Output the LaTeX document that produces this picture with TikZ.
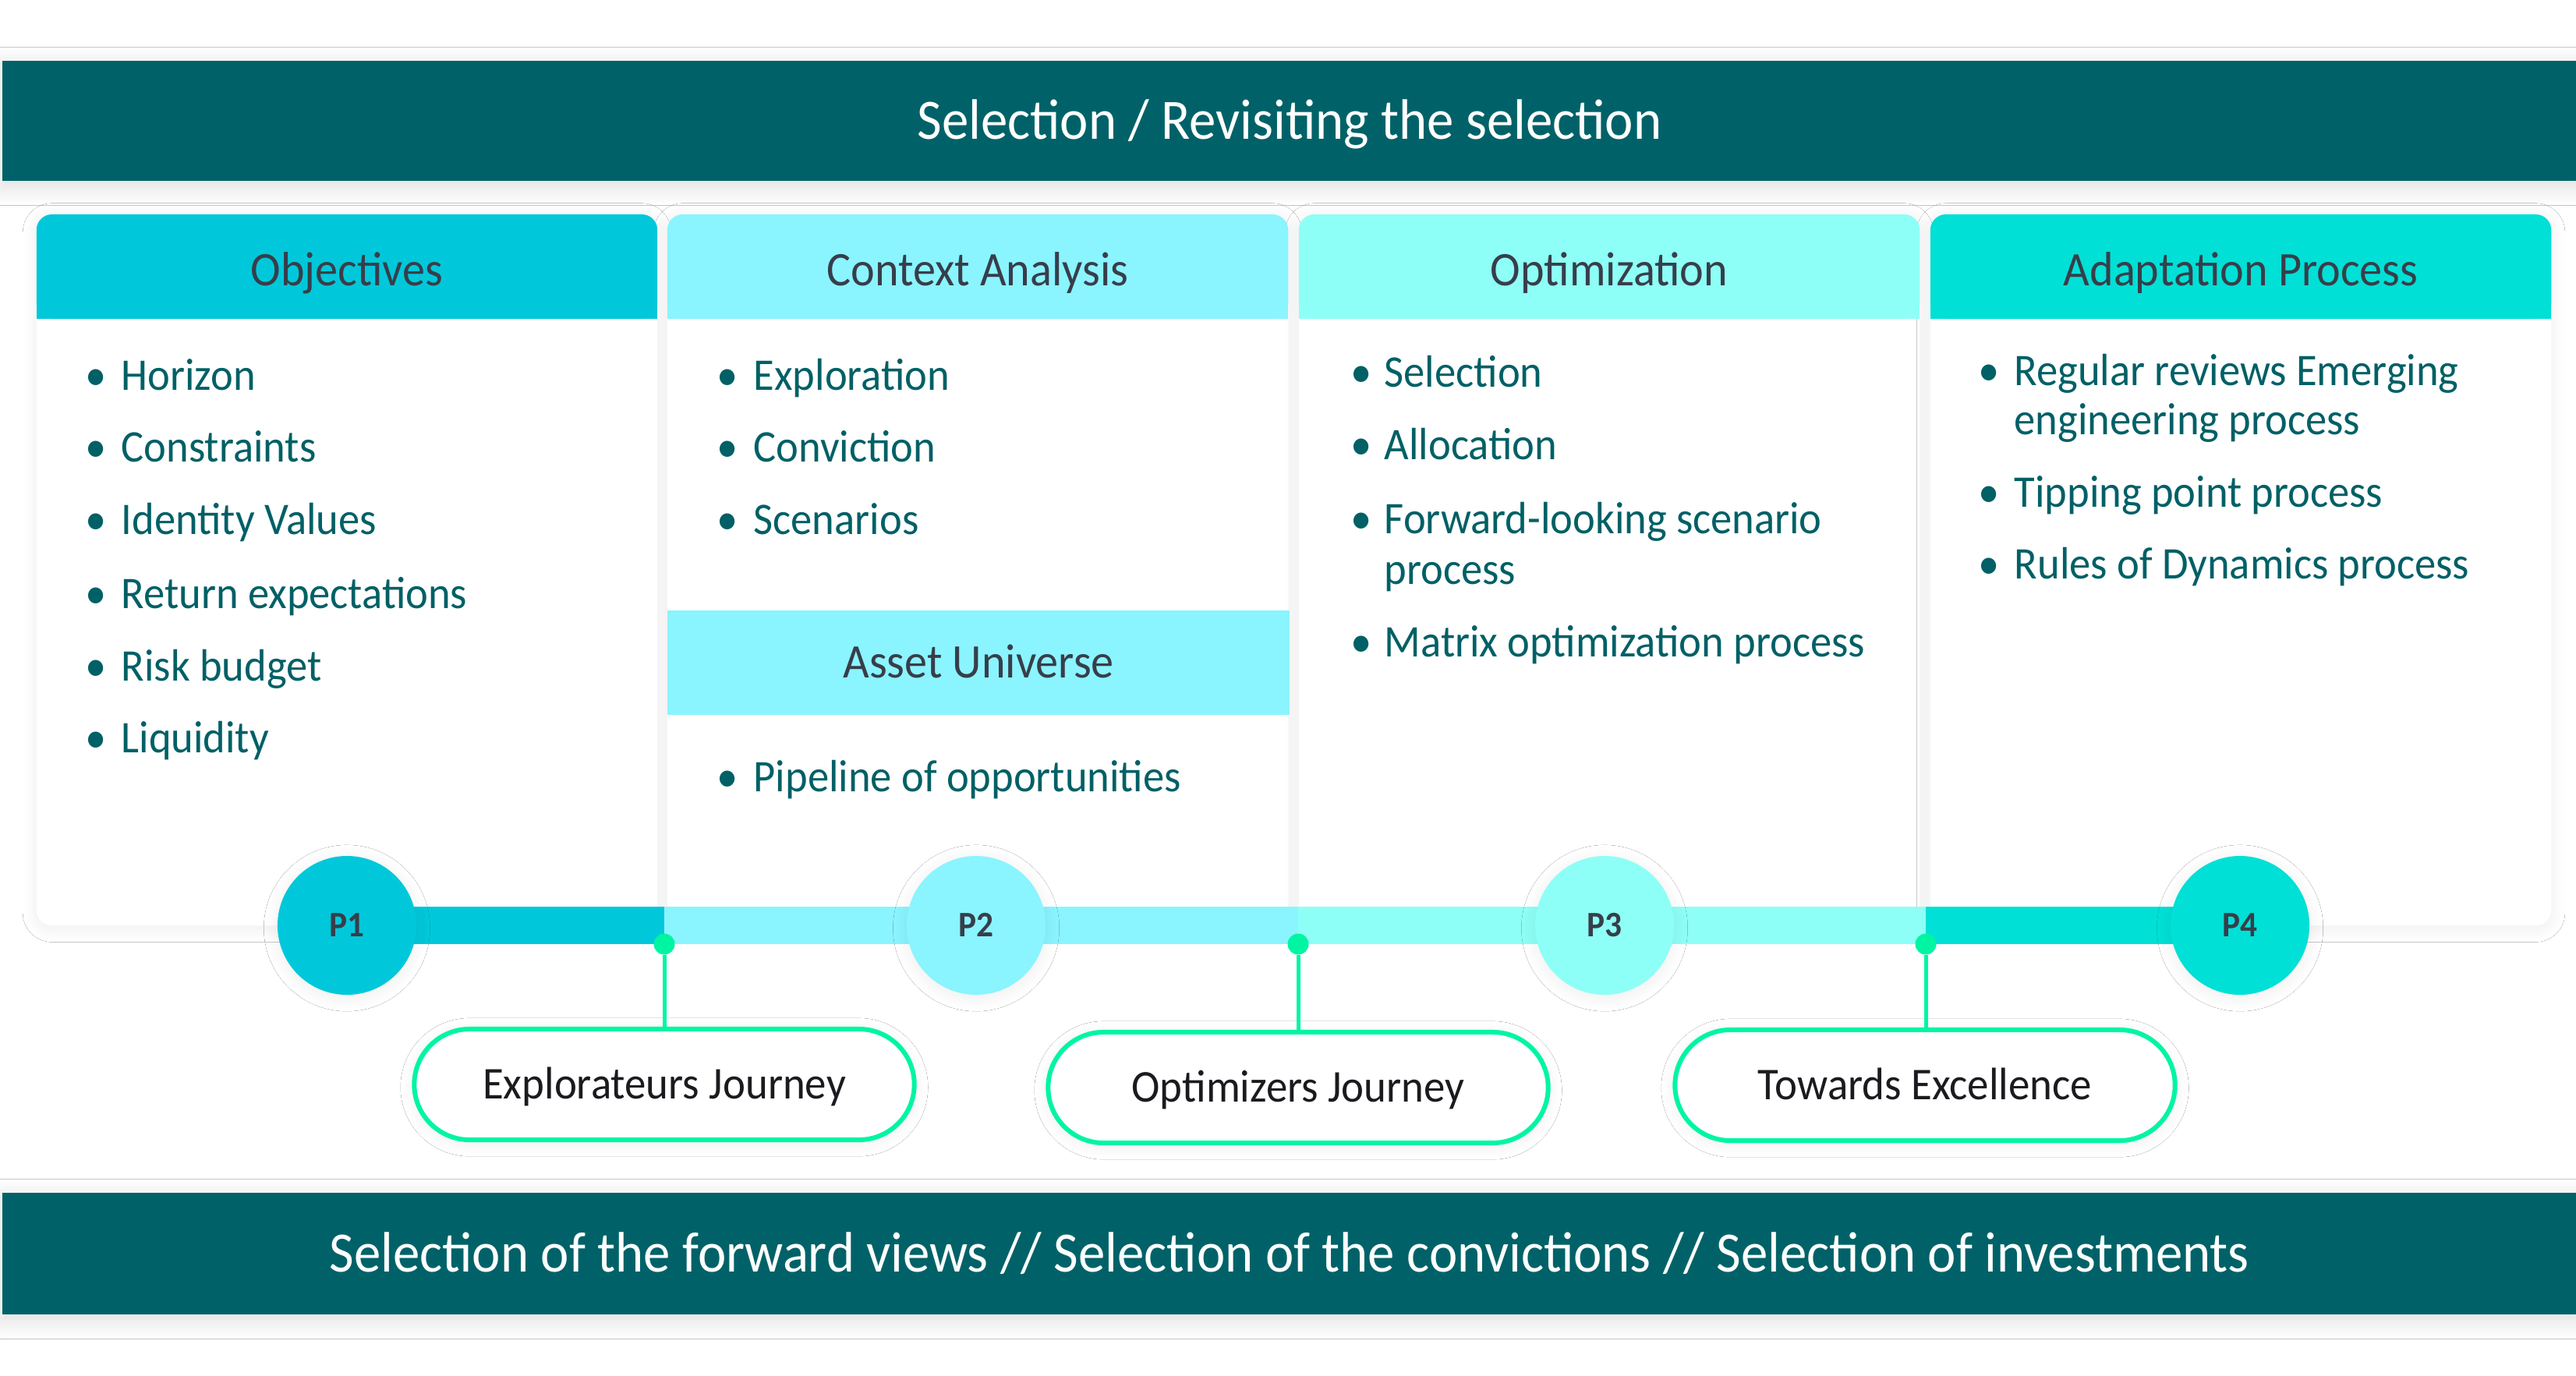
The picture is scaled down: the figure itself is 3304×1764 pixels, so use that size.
\documentclass[tikz,border=0pt]{standalone}
\usepackage{fontspec}
\setmainfont{Carlito}[FakeStretch=0.94]
\usetikzlibrary{shadows.blur}
\definecolor{bannerc}{HTML}{006268}
\definecolor{cA}{HTML}{00C8DA}
\definecolor{cB}{HTML}{8AF4FF}
\definecolor{cC}{HTML}{8EFFF6}
\definecolor{cD}{HTML}{00E0D6}
\definecolor{mint}{HTML}{00F5A3}
\definecolor{hdtext}{HTML}{373E4A}
\definecolor{bultext}{HTML}{006066}
\definecolor{pilltext}{HTML}{1B1B1F}
\newcommand\bitem[5]{%
  \node[bdot] (#1d) at (#2,#4) {•};
  \node[btxt] (#1) at (#3,#4) {#5};}
\begin{document}
\begin{tikzpicture}[x=0.01cm,y=-0.01cm,
  sh/.style={blur shadow={shadow xshift=0pt,shadow yshift=-2pt,shadow blur radius=7pt,shadow blur steps=12,shadow opacity=14}},
  shs/.style={blur shadow={shadow xshift=0pt,shadow yshift=-1pt,shadow blur radius=5pt,shadow blur steps=10,shadow opacity=7}},
  banner/.style={fill=bannerc,text=white,inner sep=0pt,minimum width=33.0cm,
    text height=0.46cm,text depth=0pt,font=\fontsize{20.8}{24}\selectfont,sh},
  colbody/.style={fill=white,rounded corners=0.2cm,inner sep=0pt,
    minimum width=7.96cm,minimum height=9.12cm,shs},
  hdr/.style={rounded corners=0.2cm,inner sep=0pt,minimum width=7.96cm,minimum height=1.34cm},
  hdtitle/.style={text=hdtext,inner sep=0pt,text height=0.39cm,text depth=0pt,
    font=\fontsize{17.6}{20}\selectfont},
  bdot/.style={anchor=base,text=bultext,inner sep=0pt,font=\fontsize{16.5}{19}\selectfont},
  btxt/.style={anchor=base west,text=bultext,inner sep=0pt,font=\fontsize{16.5}{19}\selectfont},
  bar/.style={line width=0.47cm},
  pnode/.style={circle,minimum size=1.78cm,inner sep=0pt,text=hdtext,
    text height=0.29cm,text depth=0pt,font=\bfseries\fontsize{13.1}{15}\selectfont,shs},
  jdot/.style={circle,fill=mint,minimum size=0.27cm,inner sep=0pt},
  stem/.style={draw=mint,line width=0.05cm},
  pill/.style={draw=mint,line width=0.06cm,fill=white,rounded corners=0.71cm,
    minimum width=6.41cm,minimum height=1.42cm,inner sep=0pt,text=pilltext,
    text height=0.37cm,text depth=0pt,font=\fontsize{16.6}{19}\selectfont,shs}
]
\useasboundingbox (0,0) rectangle (3304,1764);
\fill[white] (0,0) rectangle (3304,1764);

% top banner
\node[banner,minimum height=1.54cm] (topbar) at (1654,155) {Selection / Revisiting the selection};

% column bodies
\node[colbody] (body1) at (445,731) {};
\node[colbody] (body2) at (1254,731) {};
\node[colbody] (body3) at (2064,731) {};
\node[colbody] (body4) at (2874,731) {};

% headers
\node[hdr,fill=cA] (hd1) at (445,342) {};
\node[hdr,fill=cB] (hd2) at (1254,342) {};
\node[hdr,fill=cC] (hd3) at (2064,342) {};
\node[hdr,fill=cD] (hd4) at (2874,342) {};
\fill[cA] (47,342) rectangle (843,409);
\fill[cB] (856,342) rectangle (1652,409);
\fill[cC] (1666,342) rectangle (2462,409);
\fill[cD] (2476,342) rectangle (3272,409);
\node[hdtitle] (t1) at (445,347) {Objectives};
\node[hdtitle] (t2) at (1254,347) {Context Analysis};
\node[hdtitle] (t3) at (2064,347) {Optimization};
\node[hdtitle] (t4) at (2874,347) {Adaptation Process};

% asset universe band
\node[fill=cB,inner sep=0pt,minimum width=7.98cm,minimum height=1.34cm,
  text=hdtext,text height=0.39cm,text depth=0pt,font=\fontsize{17.6}{20}\selectfont]
  (asset) at (1255,850) {Asset Universe};

% bullets column 1
\bitem{a1}{123}{155}{500}{Horizon}
\bitem{a2}{123}{155}{592}{Constraints}
\bitem{a3}{123}{155}{685}{Identity Values}
\bitem{a4}{123}{155}{780}{Return expectations}
\bitem{a5}{123}{155}{873}{Risk budget}
\bitem{a6}{123}{155}{965}{Liquidity}
% column 2
\bitem{b1}{933}{966}{500}{Exploration}
\bitem{b2}{933}{966}{592}{Conviction}
\bitem{b3}{933}{966}{685}{Scenarios}
\bitem{b4}{933}{966}{1015}{Pipeline of opportunities}
% column 3
\bitem{c1}{1746}{1775}{496}{Selection}
\bitem{c2}{1746}{1775}{589}{Allocation}
\bitem{c3}{1746}{1775}{684}{Forward-looking scenario}
\node[btxt] (c3b) at (1775,749) {process};
\bitem{c4}{1746}{1775}{842}{Matrix optimization process}
% column 4
\bitem{d1}{2551}{2583}{494}{Regular reviews Emerging}
\node[btxt] (d1b) at (2583,557) {engineering process};
\bitem{d2}{2551}{2583}{650}{Tipping point process}
\bitem{d3}{2551}{2583}{742}{Rules of Dynamics process}

% timeline
\coordinate (pc1) at (445,1187);
\coordinate (pc2) at (1252,1187);
\coordinate (pc3) at (2058,1187);
\coordinate (pc4) at (2873,1187);
\coordinate (j1) at (852,1187);
\coordinate (j2) at (1665,1187);
\coordinate (j3) at (2470,1187);
\draw[bar,cA] (pc1) -- (j1);
\draw[bar,cB] (j1) -- (j2);
\draw[bar,cC] (j2) -- (j3);
\draw[bar,cD] (j3) -- (pc4);
\node[pnode,fill=cA] (p1) at (pc1) {P1};
\node[pnode,fill=cB] (p2) at (pc2) {P2};
\node[pnode,fill=cC] (p3) at (pc3) {P3};
\node[pnode,fill=cD] (p4) at (pc4) {P4};

% journey pills
\node[pill] (e1) at (852,1391) {Explorateurs Journey};
\node[pill] (e2) at (1665,1395) {Optimizers Journey};
\node[pill] (e3) at (2469,1392) {Towards Excellence};
\node[jdot] (g1) at (852,1211) {};
\node[jdot] (g2) at (1665,1211) {};
\node[jdot] (g3) at (2470,1211) {};
\draw[stem] (g1) -- (g1 |- e1.north);
\draw[stem] (g2) -- (g2 |- e2.north);
\draw[stem] (g3) -- (g3 |- e3.north);

% bottom banner
\node[banner,minimum height=1.56cm] (botbar) at (1654,1608)
  {Selection of the forward views // Selection of the convictions // Selection of investments};
\end{tikzpicture}
\end{document}
